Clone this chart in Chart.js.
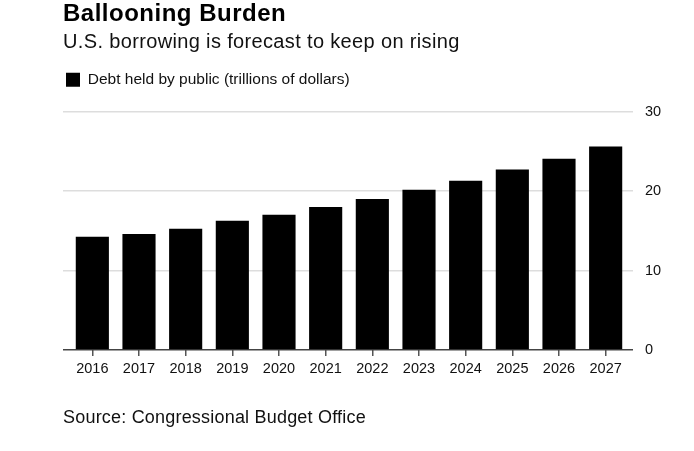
<!DOCTYPE html>
<html>
<head>
<meta charset="utf-8">
<script src="https://cdn.jsdelivr.net/npm/chart.js@4.4.1/dist/chart.umd.min.js"></script>
<style>
  html, body { margin: 0; padding: 0; background: #fff; }
  #wrap { position: relative; width: 694px; height: 451px; overflow: hidden; }
  #c { position: absolute; left: 0; top: 0; }
  .txt { position: absolute; left: 63px; white-space: nowrap; font-family: "Liberation Sans", Arial, sans-serif; color: #000; }
  #title { top: 0.5px; font-size: 24px; line-height: 24px; font-weight: bold; letter-spacing: 0.5px; }
  #subtitle { top: 30.8px; font-size: 20px; line-height: 20px; color: #111; letter-spacing: 0.35px; }
  #source { top: 408px; font-size: 18px; line-height: 18px; color: #111; letter-spacing: 0.2px; }
</style>
</head>
<body>
<div id="wrap">
  <canvas id="c" width="694" height="451"></canvas>
  <div class="txt" id="title">Ballooning Burden</div>
  <div class="txt" id="subtitle">U.S. borrowing is forecast to keep on rising</div>
  <div class="txt" id="source">Source: Congressional Budget Office</div>
</div>
<script>
const years = ['2016','2017','2018','2019','2020','2021','2022','2023','2024','2025','2026','2027'];
const debt = [14.25, 14.6, 15.25, 16.25, 17.0, 18.0, 19.0, 20.15, 21.3, 22.7, 24.05, 25.6];
const seriesLabel = 'Debt held by public (trillions of dollars)';
const yMin = 0, yMax = 30, yStep = 10;

const FONT = '"Liberation Sans", Arial, sans-serif';
const gridColor = ctx => (ctx.tick && ctx.tick.value === 0) ? '#444' : '#dddddd';
const gridWidth = ctx => (ctx.tick && ctx.tick.value === 0) ? 1.5 : 1.5;

const legendSpacer = {
  id: 'legendSpacer',
  beforeInit(chart) {
    const origFit = chart.legend.fit;
    chart.legend.fit = function () {
      origFit.bind(chart.legend)();
      this.height += 14;
    };
  }
};

new Chart(document.getElementById('c'), {
  type: 'bar',
  data: {
    labels: years,
    datasets: [{
      label: seriesLabel,
      data: debt,
      backgroundColor: '#000',
      borderWidth: 0,
      barPercentage: 0.71,
      categoryPercentage: 1.0,
      yAxisID: 'y'
    }]
  },
  options: {
    responsive: false,
    animation: false,
    devicePixelRatio: 1,
    layout: { padding: { top: 62, left: 56, right: 0, bottom: 71 } },
    plugins: {
      legend: {
        display: true,
        position: 'top',
        align: 'start',
        labels: {
          boxWidth: 14, boxHeight: 14, padding: 10,
          color: '#111',
          font: { family: FONT, size: 15.5 }
        }
      },
      tooltip: { enabled: false }
    },
    scales: {
      x: {
        type: 'category',
        offset: true,
        border: { display: false },
        grid: { display: true, offset: false, drawOnChartArea: false, drawTicks: true, tickLength: 6, color: '#555', lineWidth: 1.5 },
        ticks: { color: '#111', padding: 4, maxRotation: 0, autoSkip: false, font: { family: FONT, size: 14.5 } },
        afterFit(s) { s.height = 30; }
      },
      y: {
        position: 'right',
        min: yMin, max: yMax,
        border: { display: false },
        grid: { color: gridColor, lineWidth: gridWidth, drawTicks: true, tickLength: 4 },
        ticks: { stepSize: yStep, color: '#111', padding: 12, font: { family: FONT, size: 14.5 } },
        afterFit(s) { s.width = 65; }
      },
      yl: {
        position: 'left',
        min: yMin, max: yMax,
        border: { display: false },
        grid: { color: gridColor, lineWidth: gridWidth, drawOnChartArea: false, drawTicks: true, tickLength: 6 },
        ticks: { stepSize: yStep, display: false },
        afterFit(s) { s.width = 13; }
      }
    }
  },
  plugins: [legendSpacer]
});
</script>
</body>
</html>
